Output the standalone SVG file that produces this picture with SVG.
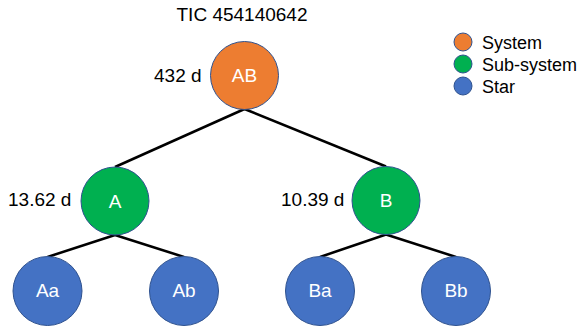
<svg xmlns="http://www.w3.org/2000/svg" width="582" height="326" viewBox="0 0 582 326">
<style>
text{font-family:"Liberation Sans",Arial,sans-serif;font-size:19px;fill:#000}
.lbl{fill:#fff;text-anchor:middle}
.n{stroke:#2F528F;stroke-width:1}
.sys{fill:#ED7D31}.sub{fill:#00B050}.star{fill:#4472C4}
.edge{stroke:#000;stroke-width:2.5;fill:none}
.leg{font-size:18px}
</style>
<rect width="582" height="326" fill="#fff"/>
<text x="242" y="21" text-anchor="middle">TIC 454140642</text>
<g id="connectors">
<line class="edge" x1="244.5" y1="109" x2="115" y2="167"/>
<line class="edge" x1="244.5" y1="109" x2="386" y2="166.5"/>
<line class="edge" x1="115" y1="235" x2="47.5" y2="257"/>
<line class="edge" x1="115" y1="235" x2="184" y2="257"/>
<line class="edge" x1="386" y1="234.5" x2="320" y2="257"/>
<line class="edge" x1="386" y1="234.5" x2="456" y2="257"/>
</g>
<g id="AB"><circle class="n sys" cx="244.5" cy="75.5" r="34"/><text class="lbl" x="244.5" y="82">AB</text><text x="154" y="82">432 d</text></g>
<g id="A"><circle class="n sub" cx="115" cy="201" r="34"/><text class="lbl" x="115" y="208">A</text><text x="8" y="206">13.62 d</text></g>
<g id="B"><circle class="n sub" cx="386" cy="200.5" r="34"/><text class="lbl" x="386" y="207">B</text><text x="281" y="206">10.39 d</text></g>
<g id="Aa"><circle class="n star" cx="47.5" cy="291" r="34.5"/><text class="lbl" x="47.5" y="297">Aa</text></g>
<g id="Ab"><circle class="n star" cx="184" cy="291" r="34.5"/><text class="lbl" x="184" y="297">Ab</text></g>
<g id="Ba"><circle class="n star" cx="320" cy="291" r="34.5"/><text class="lbl" x="320" y="297">Ba</text></g>
<g id="Bb"><circle class="n star" cx="456" cy="291" r="34.5"/><text class="lbl" x="456" y="297">Bb</text></g>
<g id="legend">
<circle class="n sys" cx="463" cy="42" r="9"/><text class="leg" x="482" y="49">System</text>
<circle class="n sub" cx="463" cy="64" r="9"/><text class="leg" x="482" y="71">Sub-system</text>
<circle class="n star" cx="463" cy="86" r="9"/><text class="leg" x="482" y="93">Star</text>
</g>
</svg>
